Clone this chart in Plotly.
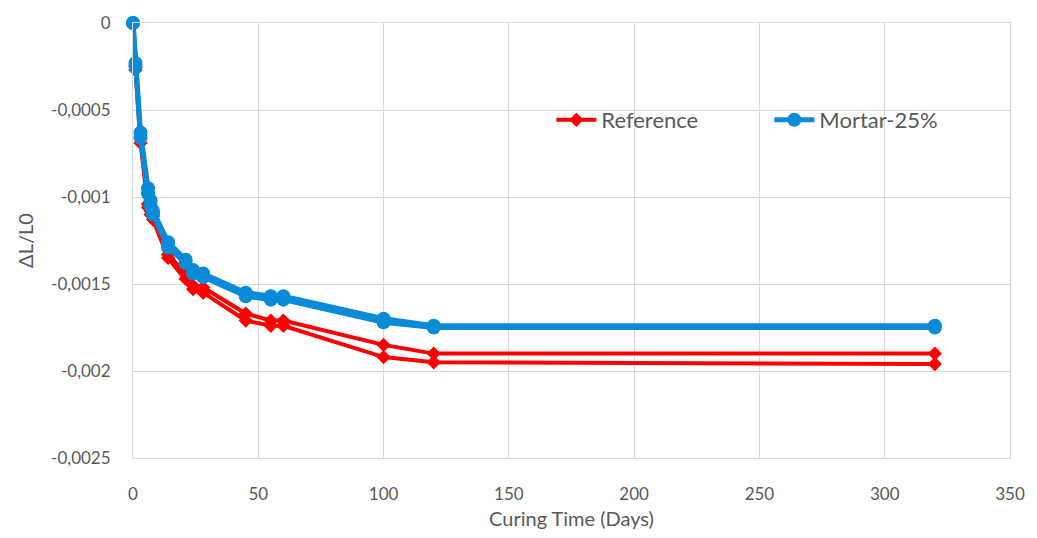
import plotly.graph_objects as go

days = [0, 1, 3, 6, 7, 8, 14, 21, 24, 28, 45, 55, 60, 100, 120, 320]

reference_a = [0, -0.00025, -0.00066, -0.00104, -0.00108, -0.00111, -0.00133, -0.00144,
               -0.00151, -0.00152, -0.00167, -0.00171, -0.00171, -0.00185, -0.00190, -0.00190]
reference_b = [0, -0.00027, -0.00069, -0.00106, -0.00110, -0.00113, -0.00135, -0.00147,
               -0.00153, -0.00155, -0.00171, -0.00174, -0.00174, -0.00192, -0.00195, -0.00196]
mortar_a = [0, -0.00023, -0.00063, -0.00095, -0.00102, -0.00108, -0.00126, -0.00136,
            -0.00142, -0.00144, -0.00155, -0.00157, -0.00157, -0.00170, -0.00174, -0.00174]
mortar_b = [0, -0.00025, -0.00066, -0.00098, -0.00105, -0.00110, -0.00129, -0.00138,
            -0.00144, -0.00146, -0.00157, -0.00159, -0.00159, -0.00172, -0.00175, -0.00175]

y_tickvals = [0, -0.0005, -0.001, -0.0015, -0.002, -0.0025]
y_ticktext = ["0", "-0,0005", "-0,001", "-0,0015", "-0,002", "-0,0025"]
x_tickvals = [0, 50, 100, 150, 200, 250, 300, 350]

RED = "#FF0000"
BLUE = "#0A8BD8"
GRID = "#D9D9D9"
TXT = "#595959"
FONT = "Lato, Open Sans, sans-serif"

fig = go.Figure()
for i, ys in enumerate([reference_a, reference_b]):
    fig.add_trace(go.Scatter(
        x=days, y=ys, mode="lines+markers", name="Reference",
        legendgroup="ref", showlegend=(i == 0),
        line=dict(color=RED, width=4),
        marker=dict(symbol="diamond", size=11, color=RED),
        cliponaxis=False))
for i, ys in enumerate([mortar_a, mortar_b]):
    fig.add_trace(go.Scatter(
        x=days, y=ys, mode="lines+markers", name="Mortar-25%",
        legendgroup="mor", showlegend=(i == 0),
        line=dict(color=BLUE, width=5),
        marker=dict(symbol="circle", size=14, color=BLUE),
        cliponaxis=False))

fig.update_layout(
    width=1037, height=538,
    margin=dict(l=133, r=18, t=22, b=76),
    paper_bgcolor="white", plot_bgcolor="white",
    font=dict(family=FONT, color=TXT, size=17),
    legend=dict(orientation="h", x=0.477, y=0.777, xanchor="left", yanchor="middle",
                font=dict(size=22, color=TXT), bgcolor="rgba(0,0,0,0)",
                itemwidth=40, entrywidth=163, entrywidthmode="pixels",
                traceorder="normal", itemsizing="trace"),
    xaxis=dict(range=[0, 350], tickvals=x_tickvals, showgrid=True, gridcolor=GRID,
               gridwidth=1, zeroline=False, showline=True, mirror=True, linecolor=GRID,
               ticks="outside", ticklen=0, ticklabelstandoff=21,
               tickfont=dict(size=17, color=TXT),
               title=dict(text="Curing Time (Days)", font=dict(size=20, color=TXT), standoff=8)),
    yaxis=dict(range=[-0.0025, 0], tickvals=y_tickvals, ticktext=y_ticktext,
               showgrid=True, gridcolor=GRID, gridwidth=1, zeroline=False,
               showline=True, mirror=True, linecolor=GRID,
               ticks="outside", ticklen=0, ticklabelstandoff=18,
               tickfont=dict(size=17, color=TXT),
               title=dict(text="ΔL/L0", font=dict(size=20, color=TXT), standoff=12)),
)

fig.write_html("out.html")
